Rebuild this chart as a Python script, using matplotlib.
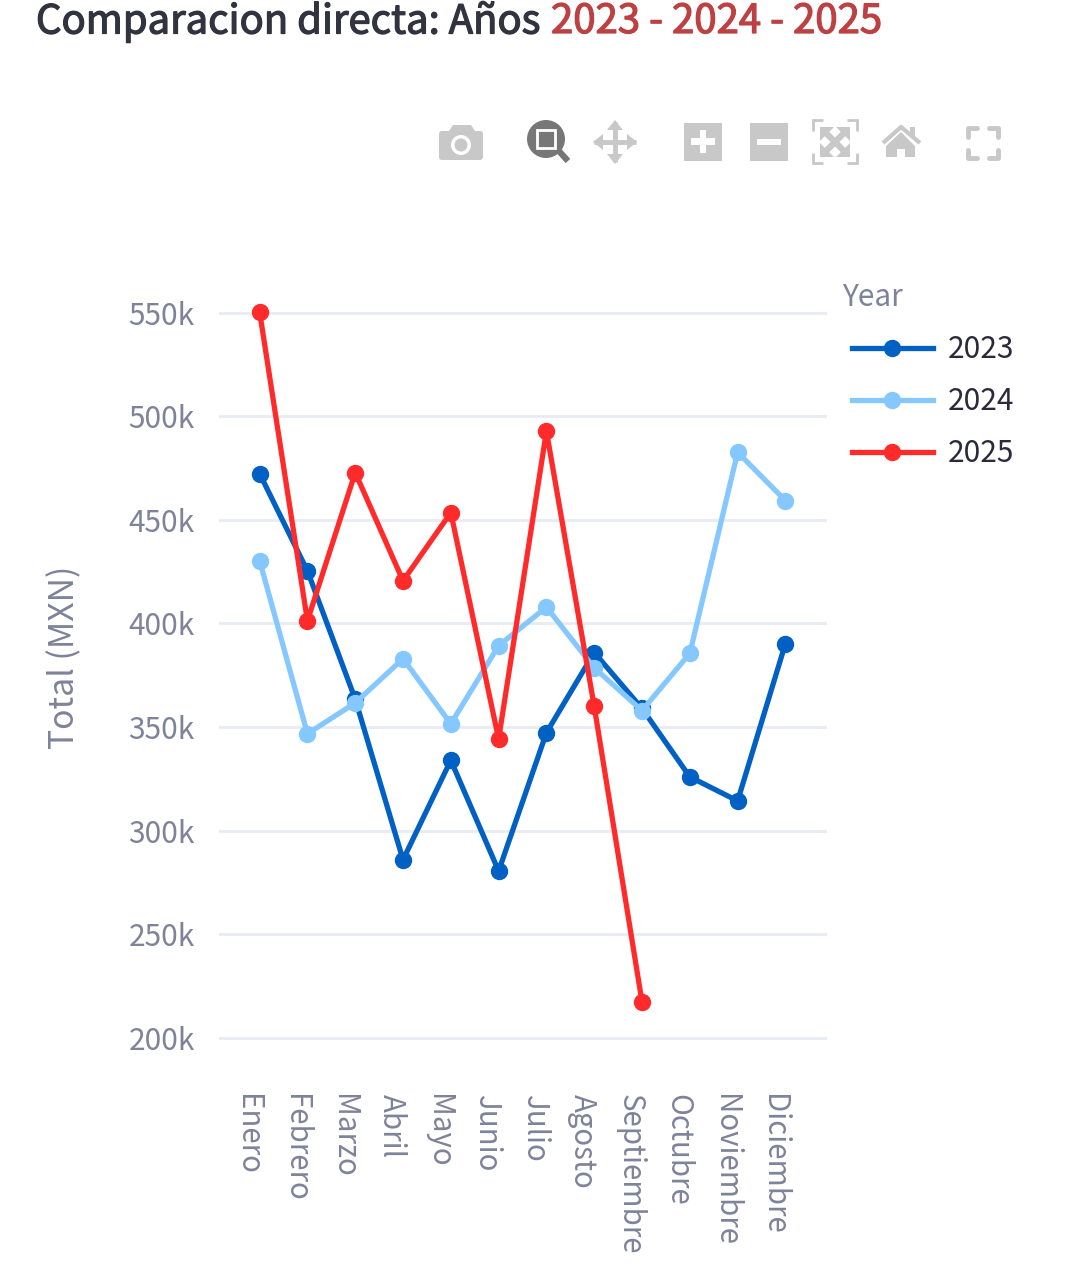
import matplotlib
matplotlib.use("Agg")
import matplotlib.pyplot as plt
import matplotlib.patheffects as pe
from matplotlib.patches import Rectangle, Circle, Polygon, FancyBboxPatch
from matplotlib.transforms import ScaledTranslation

plt.rcParams['font.family'] = ['Noto Sans CJK SC', 'DejaVu Sans']

months = ["Enero", "Febrero", "Marzo", "Abril", "Mayo", "Junio", "Julio", "Agosto",
          "Septiembre", "Octubre", "Noviembre", "Diciembre"]
y2023 = [472.3, 425.4, 363.5, 286, 334, 280.6, 347.3, 386, 359, 326, 314.4, 390.3]
y2024 = [430.3, 346.8, 361.7, 383, 351.6, 389.3, 407.9, 378.6, 358, 385.6, 482.6, 459.3]
y2025 = [550.3, 401.3, 472.8, 420.6, 453.5, 344.2, 492.8, 360, 217.4]
yticks = [200, 250, 300, 350, 400, 450, 500, 550]
ytick_labels = ["200k", "250k", "300k", "350k", "400k", "450k", "500k", "550k"]

W, H = 1070, 1282
GRAY = "#7f8399"
GRID = "#e8ebf2"
ICON = "#c8c8c8"
FS = 21.5

fig = plt.figure(figsize=(W / 100, H / 100), dpi=100, facecolor="white")
ax = fig.add_axes([219 / W, 1 - 1060 / H, 608 / W, 770 / H])

ax.plot(range(12), y2023, color="#0060c4", lw=3.8, marker="o", ms=11.5, label="2023", zorder=3, clip_on=False)
ax.plot(range(12), y2024, color="#85c8ff", lw=3.8, marker="o", ms=11.5, label="2024", zorder=4, clip_on=False)
ax.plot(range(9), y2025, color="#ff2b2b", lw=3.8, marker="o", ms=11.5, label="2025", zorder=5, clip_on=False)

ax.set_xlim(-0.85, 11.87)
ax.set_ylim(189.4, 560.9)
ax.set_yticks(yticks, ytick_labels)
ax.set_xticks(range(12), months, rotation=-90)
ax.tick_params(axis="y", length=0, pad=17.5, labelsize=FS, labelcolor=GRAY)
ax.tick_params(axis="x", length=0, pad=24.5, labelsize=21.2, labelcolor=GRAY)
shift = ScaledTranslation(-12 / 100, 0, fig.dpi_scale_trans)
for label in ax.get_xticklabels():
    label.set_ha("center")
    label.set_va("top")
    label.set_transform(label.get_transform() + shift)
ax.grid(axis="y", color=GRID, lw=2)
ax.set_axisbelow(True)
for s in ax.spines.values():
    s.set_visible(False)

fig.text(65 / W, 1 - 657 / H, "Total (MXN)", rotation=90, color=GRAY, fontsize=24.3,
         ha="center", va="center")

# legend, title sits a bit left of the entries so it is a separate text
fig.text(842 / W, 1 - 297 / H, "Year", color=GRAY, fontsize=FS, ha="left", va="center")
leg = ax.legend(loc="upper left", bbox_to_anchor=(852 / W, 1 - 334 / H),
                bbox_transform=fig.transFigure, frameon=False, fontsize=FS,
                handlelength=2.7, handletextpad=0.5, labelspacing=0.71,
                borderpad=0, borderaxespad=0)
for t in leg.get_texts():
    t.set_color("#2a2a3a")

# title, two colours
fig.text(36 / W, 1 - 22 / H, "Comparacion directa: Años ", fontsize=28.8, color="#31333f",
         ha="left", va="center",
         path_effects=[pe.withStroke(linewidth=0.9, foreground="#31333f")])
fig.text(551 / W, 1 - 22 / H, "2023 - 2024 - 2025", fontsize=28.9, color="#bd4043",
         ha="left", va="center",
         path_effects=[pe.withStroke(linewidth=0.9, foreground="#bd4043")])

# plotly modebar, drawn in pixel coords
ov = fig.add_axes([0, 0, 1, 1], facecolor="none")
ov.set_xlim(0, W)
ov.set_ylim(H, 0)
ov.axis("off")

# camera
ov.add_patch(FancyBboxPatch((439, 131), 44, 29, boxstyle="round,pad=0,rounding_size=3", fc=ICON, ec="none"))
ov.add_patch(Polygon([(449, 131), (453, 125), (471, 125), (475, 131)], fc=ICON, ec="none"))
ov.add_patch(Circle((461, 145), 10, fc="white", ec="none"))
ov.add_patch(Circle((461, 145), 6.5, fc=ICON, ec="none"))
# zoom (active)
ov.plot([558, 568], [150, 161], color="#777777", lw=4.5, solid_capstyle="butt")
ov.add_patch(Circle((546, 139), 19, fc="#777777", ec="none"))
ov.add_patch(Rectangle((537, 130), 18, 18, fc="#777777", ec="white", lw=2))
# pan
ov.plot([594, 636], [142, 142], color=ICON, lw=3.5, solid_capstyle="butt")
ov.plot([615, 615], [122, 162], color=ICON, lw=3.5, solid_capstyle="butt")
for p in ([(615, 120), (607, 130), (623, 130)], [(615, 164), (607, 154), (623, 154)],
          [(593, 142), (603, 134), (603, 150)], [(637, 142), (627, 134), (627, 150)]):
    ov.add_patch(Polygon(p, fc=ICON, ec="none"))
# zoom in / out
ov.add_patch(Rectangle((684, 123), 38, 38, fc=ICON, ec="none"))
ov.add_patch(Rectangle((691, 138), 24, 7, fc="white", ec="none"))
ov.add_patch(Rectangle((700, 130), 6, 23, fc="white", ec="none"))
ov.add_patch(Rectangle((750, 123), 38, 38, fc=ICON, ec="none"))
ov.add_patch(Rectangle((757, 139), 24, 6, fc="white", ec="none"))
# autoscale
for xs, ys in (([813, 813, 823], [131, 120, 120]), ([847, 857, 857], [120, 120, 131]),
               ([813, 813, 823], [153, 163, 163]), ([847, 857, 857], [163, 163, 153])):
    ov.plot(xs, ys, color=ICON, lw=2, solid_capstyle="butt", solid_joinstyle="miter")
ov.plot([822, 848], [129, 155], color=ICON, lw=4.5, solid_capstyle="butt")
ov.plot([848, 822], [129, 155], color=ICON, lw=4.5, solid_capstyle="butt")
for p in ([(820, 127), (834, 127), (820, 141)], [(850, 127), (836, 127), (850, 141)],
          [(820, 157), (834, 157), (820, 143)], [(850, 157), (836, 157), (850, 143)]):
    ov.add_patch(Polygon(p, fc=ICON, ec="none"))
# home
ov.plot([883, 901, 920], [143, 127, 143], color=ICON, lw=3, solid_capstyle="butt")
ov.add_patch(Polygon([(886, 146), (901, 132), (915, 146), (915, 157), (905, 157), (905, 149),
                      (897, 149), (897, 157), (886, 157)], fc=ICON, ec="none"))
ov.add_patch(Rectangle((910, 127), 5, 9, fc=ICON, ec="none"))
# fullscreen
for xs, ys in (([968, 968, 977], [137, 128, 128]), ([989, 998, 998], [128, 128, 137]),
               ([968, 968, 977], [150, 158, 158]), ([989, 998, 998], [158, 158, 150])):
    ov.plot(xs, ys, color=ICON, lw=3.5, solid_capstyle="round", solid_joinstyle="round")

fig.savefig("out.png", dpi=100, facecolor="white")
